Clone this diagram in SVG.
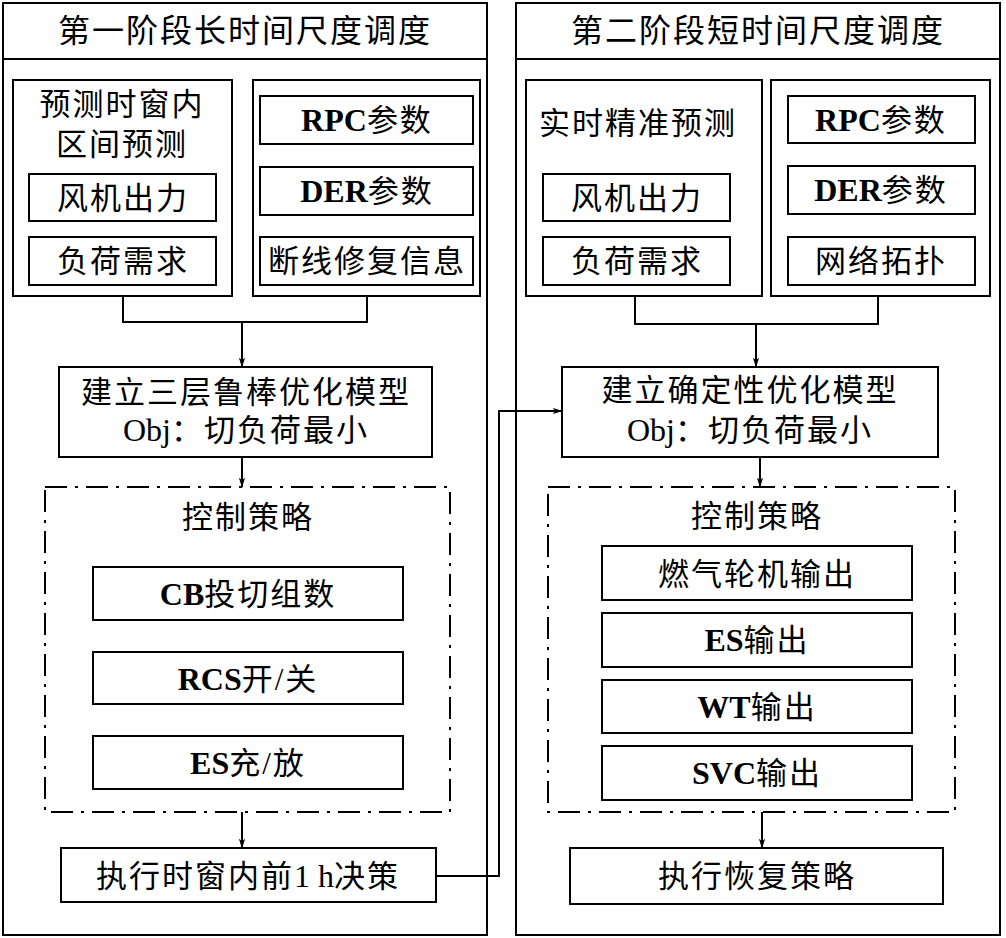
<svg xmlns="http://www.w3.org/2000/svg" width="1006" height="938" viewBox="0 0 1006 938">
<style>
.b{fill:#fff;stroke:#000;stroke-width:2}
.d{fill:none;stroke:#000;stroke-width:2;stroke-dasharray:22 8 3 8}
.c{fill:none;stroke:#000;stroke-width:2}
text{font-family:"Liberation Serif","Noto Sans CJK SC",serif;font-size:31px;fill:#000;text-anchor:middle;dominant-baseline:central;letter-spacing:2px}
.t{font-size:32px}
.bd{font-weight:bold;letter-spacing:0;font-size:32px}
.l{letter-spacing:0;font-size:32px}
</style>
<defs>
<marker id="ah" markerUnits="userSpaceOnUse" markerWidth="10" markerHeight="16" refX="15" refY="5" viewBox="0 0 16 10" orient="auto">
<path d="M0,0 L16,5 L0,10 L4,5 Z" fill="#000"/>
</marker>
</defs>
<rect width="1006" height="938" fill="#fff"/>
<g id="panel1">
<rect class="b" x="3" y="3" width="484" height="932"/>
<line class="c" x1="3" y1="59" x2="487" y2="59"/>
<text class="t" x="245" y="31">第一阶段长时间尺度调度</text>
</g>
<g id="panel2">
<rect class="b" x="516" y="3" width="484" height="932"/>
<line class="c" x1="516" y1="59" x2="1000" y2="59"/>
<text class="t" x="758" y="31">第二阶段短时间尺度调度</text>
</g>
<g id="connectors">
<polyline class="c" points="123,296 123,322 367,322 367,296"/>
<line class="c" x1="242" y1="322" x2="242" y2="367" marker-end="url(#ah)"/>
<line class="c" x1="242" y1="457" x2="242" y2="487" marker-end="url(#ah)"/>
<line class="c" x1="242" y1="812" x2="242" y2="848" marker-end="url(#ah)"/>
<polyline class="c" points="436,876 499,876 499,411 562,411" marker-end="url(#ah)"/>
<polyline class="c" points="635,296 635,324 878,324 878,296"/>
<line class="c" x1="756" y1="324" x2="756" y2="367" marker-end="url(#ah)"/>
<line class="c" x1="760" y1="457" x2="760" y2="487" marker-end="url(#ah)"/>
<line class="c" x1="762" y1="812" x2="762" y2="848" marker-end="url(#ah)"/>
</g>
<g id="l-forecast">
<rect class="b" x="13" y="80" width="219" height="216"/>
<text x="122" y="104">预测时窗内</text>
<text x="122" y="144">区间预测</text>
</g>
<g id="l-wind"><rect class="b" x="29" y="174" width="187" height="47"/><text x="123" y="198">风机出力</text></g>
<g id="l-load"><rect class="b" x="29" y="237" width="187" height="48"/><text x="123" y="261">负荷需求</text></g>
<g id="l-params"><rect class="b" x="253" y="80" width="227" height="216"/></g>
<g id="l-rpc"><rect class="b" x="260" y="96" width="213" height="48"/><text x="367" y="120"><tspan class="bd">RPC</tspan>参数</text></g>
<g id="l-der"><rect class="b" x="260" y="167" width="213" height="48"/><text x="367" y="191"><tspan class="bd">DER</tspan>参数</text></g>
<g id="l-repair"><rect class="b" x="260" y="237" width="213" height="48"/><text x="367" y="261">断线修复信息</text></g>
<g id="l-model">
<rect class="b" x="59" y="367" width="373" height="90"/>
<text x="246" y="392">建立三层鲁棒优化模型</text>
<text x="246" y="430"><tspan class="l">Obj</tspan>：切负荷最小</text>
</g>
<g id="l-strategy">
<rect class="d" x="45" y="487" width="405" height="325"/>
<text x="248" y="517">控制策略</text>
</g>
<g id="l-cb"><rect class="b" x="93" y="567" width="310" height="53"/><text x="248" y="594"><tspan class="bd">CB</tspan>投切组数</text></g>
<g id="l-rcs"><rect class="b" x="93" y="652" width="310" height="52"/><text x="248" y="679"><tspan class="bd">RCS</tspan>开/关</text></g>
<g id="l-es"><rect class="b" x="93" y="736" width="310" height="53"/><text x="248" y="763"><tspan class="bd">ES</tspan>充/放</text></g>
<g id="l-exec"><rect class="b" x="61" y="848" width="375" height="54"/><text x="248" y="876">执行时窗内前<tspan class="l">1 h</tspan>决策</text></g>
<g id="r-forecast">
<rect class="b" x="526" y="80" width="236" height="216"/>
<text x="638" y="123">实时精准预测</text>
</g>
<g id="r-wind"><rect class="b" x="543" y="174" width="187" height="47"/><text x="637" y="198">风机出力</text></g>
<g id="r-load"><rect class="b" x="543" y="237" width="187" height="48"/><text x="637" y="261">负荷需求</text></g>
<g id="r-params"><rect class="b" x="771" y="80" width="219" height="216"/></g>
<g id="r-rpc"><rect class="b" x="788" y="96" width="187" height="47"/><text x="881" y="120"><tspan class="bd">RPC</tspan>参数</text></g>
<g id="r-der"><rect class="b" x="788" y="166" width="187" height="48"/><text x="881" y="190"><tspan class="bd">DER</tspan>参数</text></g>
<g id="r-topo"><rect class="b" x="788" y="237" width="187" height="48"/><text x="881" y="261">网络拓扑</text></g>
<g id="r-model">
<rect class="b" x="562" y="367" width="376" height="90"/>
<text x="750" y="390">建立确定性优化模型</text>
<text x="750" y="430"><tspan class="l">Obj</tspan>：切负荷最小</text>
</g>
<g id="r-strategy">
<rect class="d" x="548" y="487" width="407" height="325"/>
<text x="757" y="516">控制策略</text>
</g>
<g id="r-gt"><rect class="b" x="602" y="546" width="310" height="54"/><text x="757" y="574">燃气轮机输出</text></g>
<g id="r-es"><rect class="b" x="602" y="613" width="310" height="54"/><text x="757" y="640"><tspan class="bd">ES</tspan>输出</text></g>
<g id="r-wt"><rect class="b" x="602" y="680" width="310" height="53"/><text x="757" y="707"><tspan class="bd">WT</tspan>输出</text></g>
<g id="r-svc"><rect class="b" x="602" y="746" width="310" height="54"/><text x="757" y="773"><tspan class="bd">SVC</tspan>输出</text></g>
<g id="r-exec"><rect class="b" x="570" y="848" width="373" height="56"/><text x="757" y="876">执行恢复策略</text></g>
</svg>
